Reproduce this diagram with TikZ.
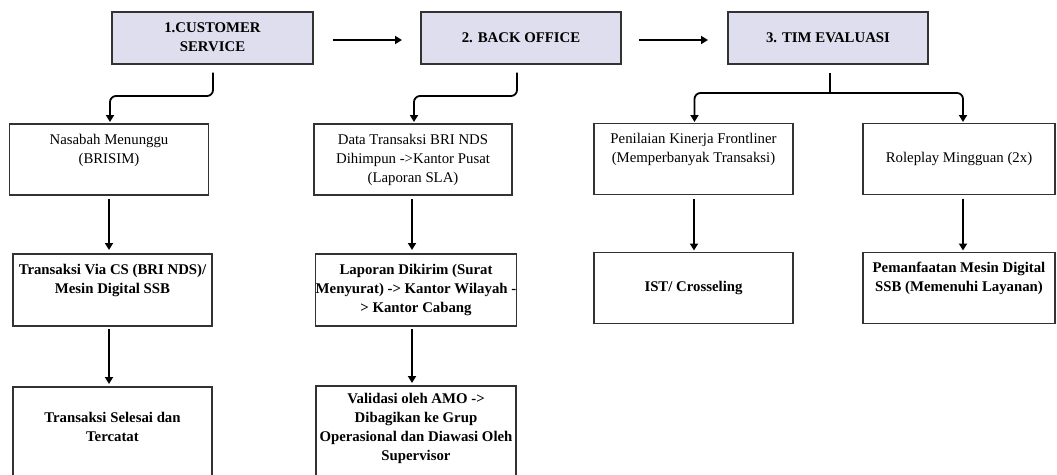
\documentclass[tikz,border=0pt]{standalone}
\usepackage{fontspec}
\setmainfont{Liberation Serif}
\usetikzlibrary{arrows.meta}
\definecolor{hdrfill}{RGB}{222,222,238}
\definecolor{edge}{RGB}{50,50,50}
\begin{document}
\begin{tikzpicture}[x=1pt,y=-1pt,
  every node/.style={inner sep=0pt,outer sep=0pt},
  basebox/.style={draw=edge,line width=1.3pt,rectangle,align=center,font=\fontsize{14.8}{19}\selectfont},
  hdr/.style={basebox,fill=hdrfill,font=\fontsize{14.8}{19}\selectfont\bfseries},
  rbox/.style={basebox},
  bbox/.style={basebox,font=\fontsize{14.8}{19}\selectfont\bfseries},
  btext/.style={font=\fontsize{14.8}{19}\selectfont\bfseries,align=center,anchor=north},
  conn/.style={line width=1.8pt,-{Triangle[width=8pt,length=7pt]}},
  elbow/.style={conn,rounded corners=6pt}
]
\useasboundingbox (0,0) rectangle (1057,474);
% headers
\node[hdr,minimum width=201pt,minimum height=52pt] (cs) at (212.5,38) {\strut 1.CUSTOMER\\SERVICE\strut};
\node[hdr,minimum width=200pt,minimum height=52pt] (bo) at (521,38) {2. BACK OFFICE};
\node[hdr,minimum width=200pt,minimum height=52pt] (te) at (828,38) {3. TIM EVALUASI};
% row 2
\node[rbox,minimum width=199pt,minimum height=71pt] (nas) at (109,159.5) {\strut Nasabah Menunggu\\(BRISIM)\\\strut};
\node[rbox,minimum width=198pt,minimum height=71pt] (dat) at (413,159.5) {\strut Data Transaksi BRI NDS\\Dihimpun ->Kantor Pusat\\(Laporan SLA)\strut};
\node[rbox,minimum width=199pt,minimum height=71pt] (pen) at (693.5,159) {\strut Penilaian Kinerja Frontliner\\(Memperbanyak Transaksi)\\\strut};
\node[rbox,minimum width=192pt,minimum height=71pt] (rol) at (959,159) {Roleplay Mingguan (2x)};
% row 3
\node[bbox,minimum width=199pt,minimum height=72pt] (tv) at (112.5,290) {\strut Transaksi Via CS (BRI NDS)/\\Mesin Digital SSB\\\strut};
\node[bbox,minimum width=200pt,minimum height=72pt] (lap) at (416,290) {\strut Laporan Dikirim (Surat\\Menyurat) -> Kantor Wilayah -\\> Kantor Cabang\strut};
\node[bbox,minimum width=199pt,minimum height=71pt] (ist) at (693.5,288) {IST/ Crosseling};
\node[bbox,minimum width=192pt,minimum height=71pt] (pem) at (959,288) {\strut Pemanfaatan Mesin Digital\\SSB (Memenuhi Layanan)\\\strut};
% row 4 (cut off by the page edge)
\node[bbox,minimum width=199pt,minimum height=110pt,anchor=north] (ts) at (112.5,387) {};
\node[btext] (tst) at (112.5,412) {Transaksi Selesai dan\\Tercatat};
\node[bbox,minimum width=200pt,minimum height=110pt,anchor=north] (va) at (416,386) {};
\node[btext] (vat) at (416,393) {Validasi oleh AMO ->\\Dibagikan ke Grup\\Operasional dan Diawasi Oleh\\Supervisor};
% header arrows
\draw[conn,shorten <=20pt,shorten >=19pt] (cs.east |- 0,40) -- (bo.west |- 0,40);
\draw[conn,shorten <=18pt,shorten >=20pt] (bo.east |- 0,40) -- (te.west |- 0,40);
% branching connectors
\draw[elbow,shorten <=8.5pt,shorten >=2pt] ([xshift=0.5pt]cs.south) -- ++(0,32) -| ([xshift=1pt]nas.north);
\draw[elbow,shorten <=8.5pt,shorten >=2pt] ([xshift=-4pt]bo.south) -- ++(0,32) -| ([xshift=1pt]dat.north);
\draw[line width=1.8pt,shorten <=9pt] ([xshift=2pt]te.south) -- ++(0,29) coordinate (tj);
\draw[elbow,shorten >=1.5pt] (tj) -| ([xshift=1pt]pen.north);
\draw[elbow,shorten >=1.5pt] (tj) -| ([xshift=4pt]rol.north);
% vertical arrows
\draw[conn,shorten <=4pt,shorten >=4pt] (nas.south) -- (nas.south |- tv.north);
\draw[conn,shorten <=3pt,shorten >=3pt] ([xshift=-3.5pt]tv.south) -- ([xshift=-3.5pt]tv.south |- ts.north);
\draw[conn,shorten <=4pt,shorten >=4pt] ([xshift=-1pt]dat.south) -- ([xshift=-1pt]dat.south |- lap.north);
\draw[conn,shorten <=3pt,shorten >=3pt] ([xshift=-4pt]lap.south) -- ([xshift=-4pt]lap.south |- va.north);
\draw[conn,shorten <=4pt,shorten >=2pt] ([xshift=0.5pt]pen.south) -- ([xshift=0.5pt]pen.south |- ist.north);
\draw[conn,shorten <=4pt,shorten >=2pt] ([xshift=4pt]rol.south) -- ([xshift=4pt]rol.south |- pem.north);
\end{tikzpicture}
\end{document}
